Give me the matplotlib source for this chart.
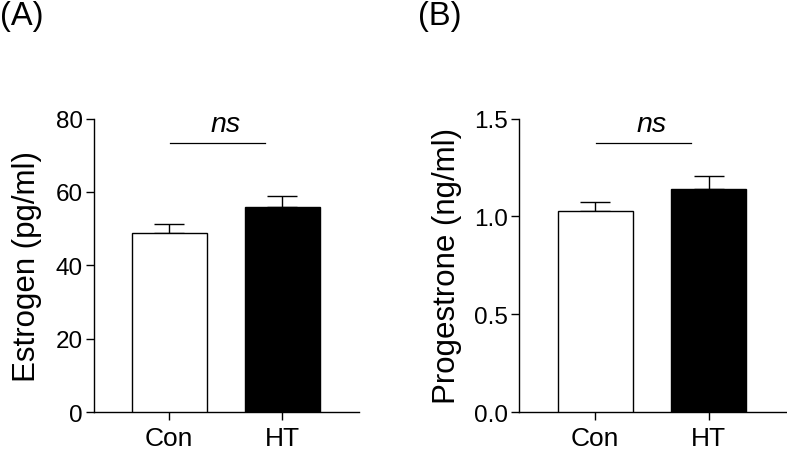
import numpy as np
import matplotlib
matplotlib.use("Agg")
import matplotlib.pyplot as plt

plt.rcParams['font.family'] = ['Liberation Sans', 'DejaVu Sans']

# data (mean and SEM)
groups = ['Con', 'HT']
estrogen_mean = [48.8, 55.8]
estrogen_sem = [2.4, 3.0]
progesterone_mean = [1.03, 1.14]
progesterone_sem = [0.044, 0.065]
bar_colors = ['white', 'black']

fig = plt.figure(figsize=(7.87, 4.52), dpi=100)
ax1 = fig.add_axes([0.1194, 0.0856, 0.337, 0.650])
ax2 = fig.add_axes([0.660, 0.0856, 0.339, 0.650])


def draw_panel(ax, means, sems, ylim, yticks, ylabel, label_x):
    x = np.arange(len(groups))
    ax.bar(x, means, width=0.66, color=bar_colors, edgecolor='black',
           linewidth=1.0, zorder=3)
    lower = np.zeros(len(sems))
    ax.errorbar(x, means, yerr=[lower, sems], fmt='none', ecolor='black',
                elinewidth=1.0, capsize=10.5, capthick=1.0, zorder=2)
    ax.set_xlim(-0.666, 1.68)
    ax.set_ylim(*ylim)
    ax.set_yticks(yticks)
    ax.set_xticks(x)
    ax.set_xticklabels(groups)
    ax.spines['top'].set_visible(False)
    ax.spines['right'].set_visible(False)
    for s in ['left', 'bottom']:
        ax.spines[s].set_linewidth(1.0)
    ax.tick_params(axis='both', direction='out', length=6, width=1.0)
    ax.tick_params(axis='y', labelsize=17.5, pad=2)
    ax.tick_params(axis='x', labelsize=19, pad=4)
    ax.set_ylabel(ylabel, fontsize=22.5)
    ax.yaxis.set_label_coords(label_x, 0.5)
    # ns bracket
    tr = ax.get_xaxis_transform()
    ax.plot([0.006, 0.845], [0.918, 0.918], color='black', lw=0.9,
            transform=tr, clip_on=False)
    ax.text(0.5, 0.958, 'ns', style='italic', fontsize=20.5, ha='center',
            va='baseline', transform=tr)


draw_panel(ax1, estrogen_mean, estrogen_sem, (0, 80), [0, 20, 40, 60, 80],
           'Estrogen (pg/ml)', -0.196)
draw_panel(ax2, progesterone_mean, progesterone_sem, (0, 1.5),
           [0.0, 0.5, 1.0, 1.5], 'Progestrone (ng/ml)', -0.215)
ax2.set_yticklabels(['0.0', '0.5', '1.0', '1.5'])

fig.text(0.0, 0.998, '(A)', fontsize=23.5, ha='left', va='top')
fig.text(0.531, 0.998, '(B)', fontsize=23.5, ha='left', va='top')

fig.savefig('out.png', dpi=100)
